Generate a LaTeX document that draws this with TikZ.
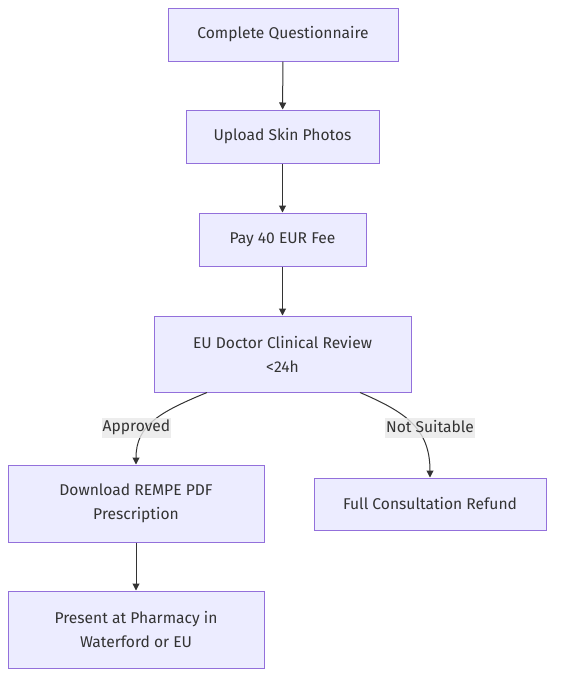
\documentclass[tikz,border=0pt]{standalone}
\usepackage{fontspec}
\setmainfont{Fira Sans}
\usetikzlibrary{arrows.meta}
\definecolor{boxfill}{HTML}{ECECFF}
\definecolor{boxline}{HTML}{9370DB}
\definecolor{ink}{HTML}{333333}
\definecolor{labelbg}{HTML}{E8E8E8}
\begin{document}
\begin{tikzpicture}[x=1pt,y=-1pt,
		stepbox/.style={draw=boxline,fill=boxfill,line width=1pt,text=ink,align=center,inner sep=0pt,font=\fontsize{15.6}{24}\selectfont},
		flow/.style={draw=ink,line width=1pt,-{Triangle[length=7pt,width=7pt]}},
		edgelabel/.style={fill=labelbg,fill opacity=0.8,text opacity=1,text=ink,inner xsep=1pt,inner ysep=0pt,minimum height=20pt,font=\fontsize{15.6}{20}\selectfont}]
			\useasboundingbox (0,0) rectangle (562,686);
			\node[stepbox,minimum width=230pt,minimum height=53pt] (quest) at (283,34.5) {Complete Questionnaire};
			\node[stepbox,minimum width=193pt,minimum height=53pt] (photos) at (282.5,136.5) {Upload Skin Photos};
			\node[stepbox,minimum width=167pt,minimum height=53pt] (fee) at (282.5,239.5) {Pay 40 EUR Fee};
			\node[stepbox,minimum width=257pt,minimum height=76pt] (review) at (282.5,354) {EU Doctor Clinical Review\\<24h};
			\node[stepbox,minimum width=256pt,minimum height=77pt] (download) at (136,503.5) {Download REMPE PDF\\Prescription};
			\node[stepbox,minimum width=232pt,minimum height=52pt] (refund) at (430,504) {Full Consultation Refund};
			\node[stepbox,minimum width=256pt,minimum height=77pt] (pharmacy) at (136,629.5) {Present at Pharmacy in\\Waterford or EU};
			\draw[flow] (quest) -- (photos);
			\draw[flow] (photos) -- (fee);
			\draw[flow] (fee) -- (review);
			\draw[flow] ([xshift=-75.5pt]review.south) .. controls (160,412) and (136,425) .. (download.north);
			\draw[flow] ([xshift=77.5pt]review.south) .. controls (405,412) and (430,428) .. (refund.north);
			\draw[flow] (download) -- (pharmacy);
			\node[edgelabel,text depth=4pt] (yes) at (136.5,428) {Approved};
			\node[edgelabel,text depth=4pt] (no) at (430,428) {Not Suitable};
		\end{tikzpicture}
\end{document}
